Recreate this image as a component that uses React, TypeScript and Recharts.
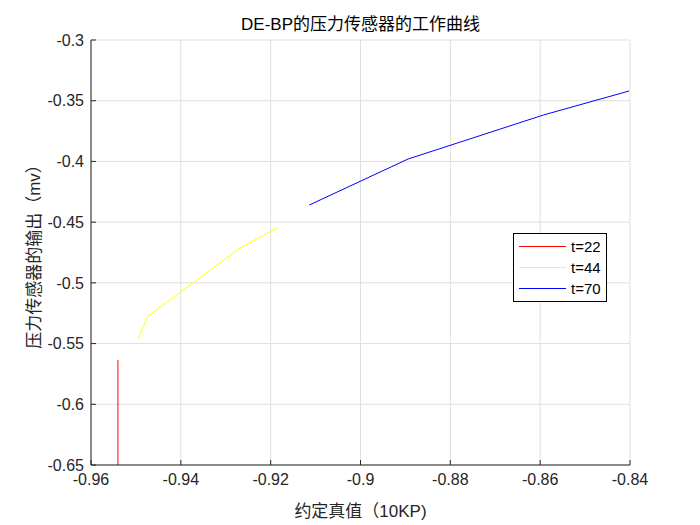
import { LineChart, Line, XAxis, YAxis, CartesianGrid } from "recharts";

// 约定真值 (x) and 输出 (y) per temperature
const redX = [-0.954, -0.954];
const redY = [-0.65, -0.5636];
const yellowX = [-0.9495, -0.9473, -0.9268, -0.9186];
const yellowY = [-0.5455, -0.5273, -0.4713, -0.4549];
const blueX = [-0.9114, -0.8894, -0.8593, -0.8402];
const blueY = [-0.4359, -0.398, -0.3618, -0.342];

const seriesNames = ["t=22", "t=44", "t=70"];
const seriesColors = ["#ff0000", "#ffff00", "#0000ff"];

const xTicks = [-0.96, -0.94, -0.92, -0.9, -0.88, -0.86, -0.84];
const yTicks = [-0.65, -0.6, -0.55, -0.5, -0.45, -0.4, -0.35, -0.3];

const toPoints = (xs: number[], ys: number[]) => xs.map((x, i) => ({ x, y: ys[i] }));
const series = [toPoints(redX, redY), toPoints(yellowX, yellowY), toPoints(blueX, blueY)];

const fmt = (v: number) => String(Number(v.toFixed(2)));
const sans = "'Liberation Sans', Arial, 'Noto Sans CJK SC', sans-serif";
const ink = "#262626";

const LegendBox = () => (
  <div
    style={{
      position: "absolute",
      left: 513,
      top: 233,
      width: 92,
      border: "1px solid #000",
      background: "#fff",
      padding: "2px 0",
      fontFamily: sans,
      fontSize: 15,
      color: "#000",
    }}
  >
    {seriesNames.map((name, i) => (
      <div key={name} style={{ display: "flex", alignItems: "center", height: 21 }}>
        <span style={{ display: "inline-block", width: 47, borderTop: `1px solid ${seriesColors[i]}`, marginLeft: 5, marginRight: 5 }} />
        <span>{name}</span>
      </div>
    ))}
  </div>
);

export default function App() {
  return (
    <div style={{ position: "absolute", left: 0, top: 0, width: 700, height: 525, background: "#fff" }}>
      <div
        style={{
          position: "absolute",
          left: 91,
          width: 539,
          top: 13,
          textAlign: "center",
          fontFamily: sans,
          fontSize: 17,
          color: "#000",
          lineHeight: "24px",
        }}
      >
        DE-BP的压力传感器的工作曲线
      </div>
      <LineChart width={700} height={525} margin={{ top: 40, right: 70, bottom: 0, left: 0 }}>
        <CartesianGrid stroke="#dfdfdf" strokeWidth={1} />
        <XAxis
          dataKey="x"
          type="number"
          domain={[-0.96, -0.84]}
          ticks={xTicks}
          tickFormatter={fmt}
          allowDataOverflow
          height={60}
          stroke={ink}
          tickSize={-5}
          tickMargin={14}
          tick={{ fill: ink, fontSize: 16, fontFamily: sans }}
          label={{ value: "约定真值（10KP)", position: "insideBottom", offset: 8, fill: ink, fontSize: 17, fontFamily: sans }}
        />
        <XAxis xAxisId="top" dataKey="x" type="number" domain={[-0.96, -0.84]} ticks={xTicks} orientation="top" height={0} stroke={ink} tickSize={-5} tick={false} />
        <YAxis
          dataKey="y"
          type="number"
          domain={[-0.65, -0.3]}
          ticks={yTicks}
          tickFormatter={fmt}
          allowDataOverflow
          width={91}
          stroke={ink}
          tickSize={-5}
          tickMargin={12}
          tick={{ fill: ink, fontSize: 16, fontFamily: sans }}
          label={{ value: "压力传感器的输出（mv）", angle: -90, position: "insideLeft", offset: 34, style: { textAnchor: "middle" }, fill: ink, fontSize: 17, fontFamily: sans }}
        />
        <YAxis yAxisId="right" dataKey="y" type="number" domain={[-0.65, -0.3]} ticks={yTicks} orientation="right" width={0} stroke={ink} tickSize={-5} tick={false} />
        {series.map((data, i) => (
          <Line
            key={seriesNames[i]}
            data={data}
            dataKey="y"
            name={seriesNames[i]}
            stroke={seriesColors[i]}
            strokeWidth={1}
            dot={false}
            type="linear"
            isAnimationActive={false}
          />
        ))}
      </LineChart>
      <LegendBox />
    </div>
  );
}
